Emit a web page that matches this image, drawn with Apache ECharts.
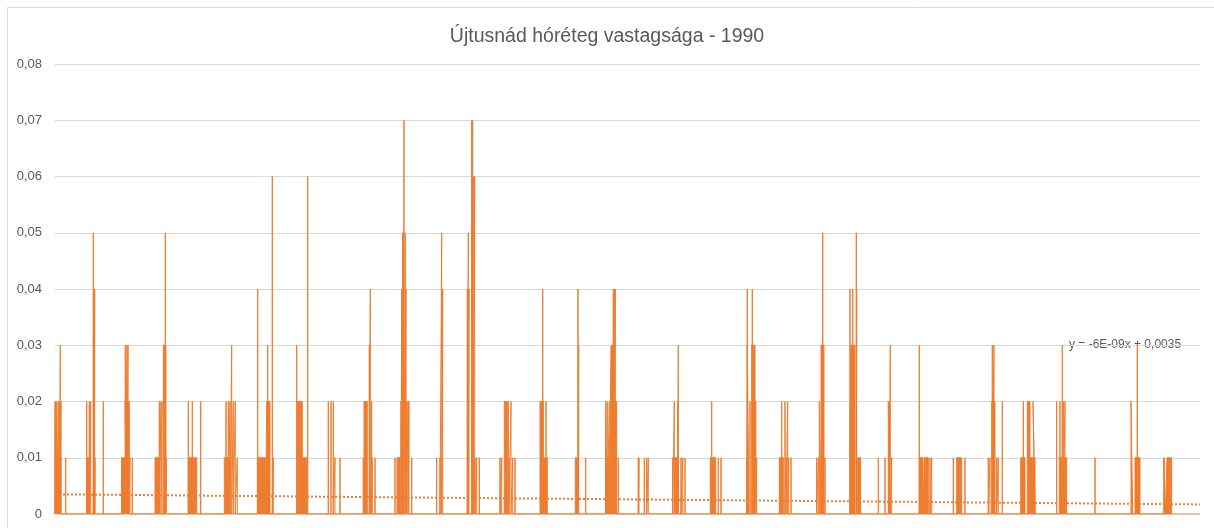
<!DOCTYPE html>
<html>
<head>
<meta charset="utf-8">
<title>Újtusnád hóréteg vastagsága - 1990</title>
<script src="https://cdn.jsdelivr.net/npm/echarts@6/dist/echarts.min.js"></script>
<style>
  html, body { margin: 0; padding: 0; background: #fff; }
  #chart { width: 1214px; height: 528px; }
</style>
</head>
<body>
<div id="chart"></div>
<script>
// time position along the year (scaled sample index), snow depth in metres
const timeSpan = 1145

// single readings: [position, depth]
const spikes = [
  [0, 0.02], [0.7, 0.02], [1.7, 0.02], [3.3, 0.02], [4.3, 0.02], [5.3, 0.03], [6, 0.02], [10.7, 0.01],
  [31.7, 0.02], [34.3, 0.02], [35.7, 0.02], [38.3, 0.05], [39, 0.04], [39.7, 0.04], [40, 0.01], [48.3, 0.02],
  [70.3, 0.03], [72, 0.03], [73, 0.03], [75, 0.01], [77.3, 0.01],
  [104.3, 0.02], [106, 0.02], [107, 0.02], [110.3, 0.05], [111.3, 0.01],
  [133.3, 0.02], [137.3, 0.02], [145.7, 0.02],
  [171, 0.02], [173.3, 0.02], [175, 0.02], [176.7, 0.03], [178.3, 0.02], [180.3, 0.02], [182.3, 0.01],
  [202.7, 0.04], [204.3, 0.01], [212.7, 0.03], [217.3, 0.06], [218.3, 0.01],
  [241.7, 0.03], [252.7, 0.06],
  [273.3, 0.02], [276, 0.02], [278.3, 0.02], [280, 0.01], [285, 0.01],
  [308.3, 0.01], [314.3, 0.03], [315.3, 0.04], [316.7, 0.02], [317.3, 0.01], [320, 0.01],
  [340, 0.01], [346, 0.02], [346.7, 0.04], [347.7, 0.05], [348.3, 0.05], [349, 0.07], [350.3, 0.05],
  [351, 0.04], [351.7, 0.02], [353, 0.02], [354, 0.02], [356.7, 0.01],
  [381.7, 0.01], [385, 0.01], [386.7, 0.05], [387.7, 0.04],
  [412.3, 0.04], [413.3, 0.05], [414, 0.04], [416.7, 0.07], [417.7, 0.07], [418.3, 0.06], [419.7, 0.06],
  [420, 0.01], [421.7, 0.01], [424.3, 0.01],
  [445, 0.01], [446.7, 0.01], [453.3, 0.02], [454, 0.01], [456, 0.02], [457.7, 0.01], [460, 0.01],
  [487.7, 0.04], [491, 0.02],
  [523, 0.04], [523.7, 0.03], [530.7, 0.01],
  [550.7, 0.02], [552.3, 0.02], [554.3, 0.02], [558.3, 0.04], [559.3, 0.04], [560.3, 0.04], [563.3, 0.01],
  [583.3, 0.01], [584, 0.01], [589.3, 0.01], [591.7, 0.01], [593.3, 0.01],
  [617.7, 0.01], [619.3, 0.02], [622.7, 0.02], [623.3, 0.03], [626, 0.01], [627.7, 0.01], [630, 0.01],
  [656.7, 0.02], [663.3, 0.01], [666, 0.01],
  [691.7, 0.01], [692.3, 0.04], [695, 0.02], [697.3, 0.04], [700.7, 0.02], [701.7, 0.01],
  [726.7, 0.02], [730, 0.02], [731, 0.01], [732.7, 0.02], [733.7, 0.01], [736, 0.01],
  [761.7, 0.01], [763.3, 0.01], [767.7, 0.05], [770, 0.01],
  [795, 0.04], [795.3, 0.02], [797.7, 0.04], [801.3, 0.05], [801.7, 0.04],
  [823.3, 0.01], [830, 0.01], [834.3, 0.02], [835.3, 0.03], [836.7, 0.01],
  [864.3, 0.03], [866, 0.01], [875, 0.01], [876.7, 0.01],
  [898.3, 0.01], [910, 0.01],
  [933.3, 0.01], [935, 0.01], [937.3, 0.03], [939, 0.03], [941.7, 0.01], [943.3, 0.01], [947.3, 0.02],
  [968.3, 0.02],
  [1001.7, 0.02], [1005, 0.02], [1007.3, 0.03], [1008.3, 0.02], [1010, 0.02],
  [1040, 0.01],
  [1082.3, 0.03],
  [1109, 0.01]
]

// dense stretches that render as solid runs: [from, to, depth]
const runs = [
  [1, 6, 0.01],
  [31.7, 35, 0.01],
  [66.5, 71, 0.01], [70, 74.3, 0.02],
  [100, 104.3, 0.01], [108.3, 111, 0.03],
  [133.3, 141.7, 0.01],
  [169.3, 175, 0.01],
  [202.3, 210.7, 0.01], [211.7, 215, 0.02],
  [242.3, 247.3, 0.02], [246, 251.7, 0.01],
  [309, 312.3, 0.02],
  [342, 345, 0.01],
  [449.3, 452.3, 0.02],
  [485, 488.3, 0.02], [489, 492.3, 0.01],
  [520.3, 523, 0.01],
  [550.7, 554.3, 0.01], [556, 558.3, 0.03], [559, 561.7, 0.02],
  [619.3, 623.3, 0.01],
  [655.3, 660.7, 0.01],
  [692.3, 694, 0.03], [696.7, 700, 0.03],
  [724.3, 728.3, 0.01],
  [764.3, 766, 0.02], [766, 769, 0.03],
  [795.7, 800, 0.03], [802.7, 805.7, 0.01],
  [833.3, 835, 0.02],
  [864.3, 868, 0.01], [869.5, 873.3, 0.01],
  [901.7, 906.7, 0.01],
  [936.7, 940, 0.02],
  [965.7, 970, 0.01], [972.3, 975, 0.02], [973.3, 980, 0.01], [978, 980, 0.02],
  [1004.3, 1011.7, 0.01],
  [1076, 1077.7, 0.02], [1080, 1085, 0.01],
  [1109, 1110.3, 0.01], [1112, 1116.7, 0.01]
]

// linear trend: start and end value
const trendEnds = [0.0035, 0.0017]
const trendLabel = 'y = -6E-09x + 0,0035'
const yTicks = [0, 0.01, 0.02, 0.03, 0.04, 0.05, 0.06, 0.07, 0.08]

const orange = '#ED7D31'
const textGrey = '#595959'

function spikeLine() {
  const pts = [[0, 0]]
  spikes.slice().sort((a, b) => a[0] - b[0]).forEach(s => {
    pts.push([s[0], 0], [s[0], s[1]], [s[0], 0])
  })
  pts.push([timeSpan, 0])
  return pts
}

function runLine() {
  const pts = []
  runs.slice().sort((a, b) => a[0] - b[0]).forEach(r => {
    pts.push([r[0], 0], [r[0], r[2]], [r[1], r[2]], [r[1], 0])
  })
  return pts
}

const chart = echarts.init(document.getElementById('chart'), null, { renderer: 'canvas' })

chart.setOption({
  animation: false,
  backgroundColor: '#fff',
  title: {
    text: 'Újtusnád hóréteg vastagsága - 1990',
    left: 'center',
    top: 22,
    textStyle: {
      fontFamily: 'Liberation Sans',
      fontSize: 19.5,
      fontWeight: 'normal',
      color: textGrey
    }
  },
  grid: {
    left: 55,
    right: 14,
    top: 64,
    bottom: 14
  },
  xAxis: {
    type: 'value',
    min: 0,
    max: timeSpan,
    show: false
  },
  yAxis: {
    type: 'value',
    min: yTicks[0],
    max: yTicks[yTicks.length - 1],
    interval: 0.01,
    axisLine: { show: false },
    axisTick: { show: false },
    splitLine: { lineStyle: { color: '#D9D9D9', width: 1 } },
    axisLabel: {
      margin: 13,
      color: textGrey,
      fontFamily: 'Liberation Sans',
      fontSize: 13,
      formatter: v => (v === 0 ? '0' : v.toFixed(2).replace('.', ','))
    }
  },
  graphic: [
    {
      type: 'line',
      shape: { x1: 7.5, y1: 7.5, x2: 1214, y2: 7.5 },
      style: { stroke: '#D9D9D9', lineWidth: 1 }
    },
    {
      type: 'line',
      shape: { x1: 7.5, y1: 7.5, x2: 7.5, y2: 528 },
      style: { stroke: '#D9D9D9', lineWidth: 1 }
    },
    {
      type: 'text',
      left: 1069,
      top: 339,
      style: {
        text: trendLabel,
        fill: textGrey,
        font: '12px "Liberation Sans"'
      }
    }
  ],
  series: [
    {
      name: 'runs',
      type: 'line',
      data: runLine(),
      symbol: 'none',
      lineStyle: { color: orange, width: 1 },
      areaStyle: { color: orange, opacity: 1 },
      z: 2
    },
    {
      name: 'hóréteg',
      type: 'line',
      data: spikeLine(),
      symbol: 'none',
      lineStyle: { color: orange, width: 1 },
      z: 3
    },
    {
      name: 'trend',
      type: 'line',
      data: [[0, trendEnds[0]], [timeSpan, trendEnds[1]]],
      symbol: 'none',
      lineStyle: { color: orange, width: 2, type: [2, 2] },
      z: 4
    }
  ]
})
</script>
</body>
</html>
